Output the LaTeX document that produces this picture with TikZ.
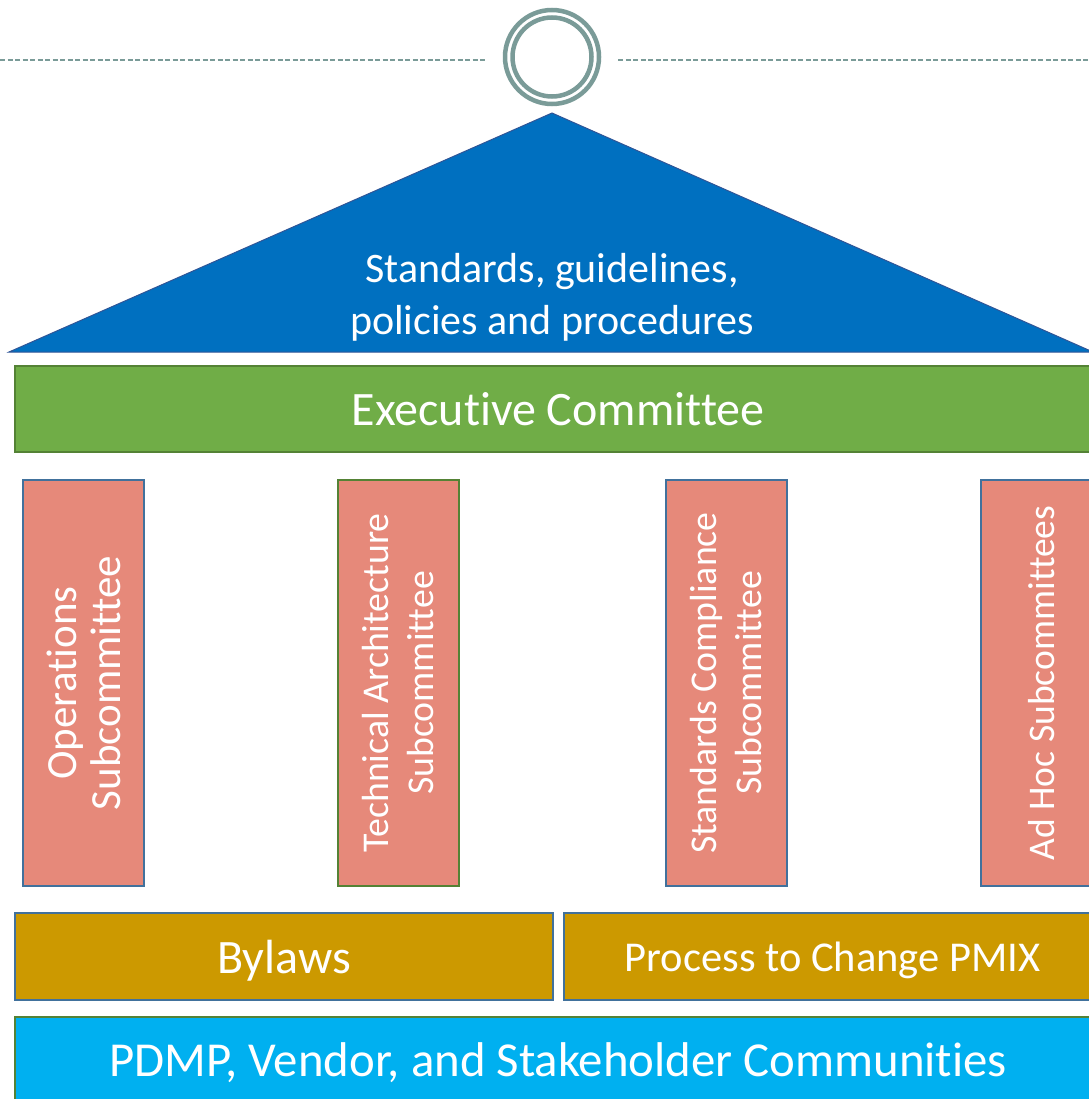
\documentclass[tikz,border=0pt]{standalone}
\usepackage{fontspec}
\setmainfont[Ligatures=NoCommon]{Carlito}
\usetikzlibrary{calc}

\definecolor{ringgray}{RGB}{122,155,152}
\definecolor{roofblue}{RGB}{0,112,192}
\definecolor{roofedge}{RGB}{47,85,151}
\definecolor{execgreen}{RGB}{112,173,71}
\definecolor{darkgreen}{RGB}{84,130,53}
\definecolor{salmon}{RGB}{230,137,122}
\definecolor{edgeblue}{RGB}{65,113,156}
\definecolor{gold}{RGB}{204,153,0}
\definecolor{skyblue}{RGB}{0,176,240}

\begin{document}
\begin{tikzpicture}[x=1pt,y=-1pt,
    bar/.style={draw=edgeblue, line width=2pt, text=white, inner sep=0pt,
        minimum height=87pt, text depth=0pt, font=\fontsize{48}{56}\selectfont},
    pillar/.style={draw=edgeblue, line width=2pt, fill=salmon, text=white,
        rotate=90, inner sep=0pt, minimum width=406pt, minimum height=121pt,
        align=center},
    ring/.style={circle, draw=ringgray, line width=4.5pt, inner sep=0pt}]

    \useasboundingbox (0,0) rectangle (1088,1099);

    % ring on top with the dashed rule
    \node[ring, minimum size=94pt] (ring) at (552,57) {};
    \node[ring, minimum size=79pt] (inring) at (ring.center) {};
    \coordinate (leftend) at (0,60);
    \coordinate (rightend) at (1088,60);
    \draw[ringgray, line width=1.2pt, dash pattern=on 5pt off 2.5pt]
        (leftend) -- ($(leftend -| ring.west)+(-17,0)$);
    \draw[ringgray, line width=1.2pt, dash pattern=on 5pt off 2.5pt]
        ($(rightend -| ring.east)+(17,0)$) -- (rightend);

    % roof
    \draw[roofedge, fill=roofblue, line width=1pt] (9,352) -- (552,113) -- (1093,352) -- cycle;
    \node[text=white, align=center, font=\fontsize{42}{52}\selectfont] (roof) at (552,297)
        {Standards, guidelines,\\policies and procedures};

    \node[bar, draw=darkgreen, fill=execgreen, minimum width=1086pt, minimum height=86pt]
        (exec) at (558,409) {Executive Committee};

    % pillars
    \foreach \px/\name/\edge/\fs/\sk/\txt in {
        83.5/ops/edgeblue/43/44/{Operations\\Subcommittee},
        398.5/tech/darkgreen/37.8/45/{Technical Architecture\\Subcommittee},
        726/comp/edgeblue/37.8/45/{Standards Compliance\\Subcommittee},
        1041.5/adhoc/edgeblue/37.6/45/{Ad Hoc Subcommittees}} {
        \node[pillar, draw=\edge, font=\fontsize{\fs}{\sk}\selectfont] (\name) at (\px,683) {\txt};
    }

    % foundation
    \node[bar, fill=gold, minimum width=538pt] (bylaws) at (284,956.5) {Bylaws};
    \node[bar, fill=gold, minimum width=537pt, font=\fontsize{42.5}{50}\selectfont]
        (change) at (832.5,956.5) {Process to Change PMIX};
    \node[bar, draw=darkgreen, fill=skyblue, minimum width=1086pt, minimum height=86pt,
        font=\fontsize{48.8}{56}\selectfont]
        (base) at (558,1060) {PDMP, Vendor, and Stakeholder Communities};
\end{tikzpicture}
\end{document}
